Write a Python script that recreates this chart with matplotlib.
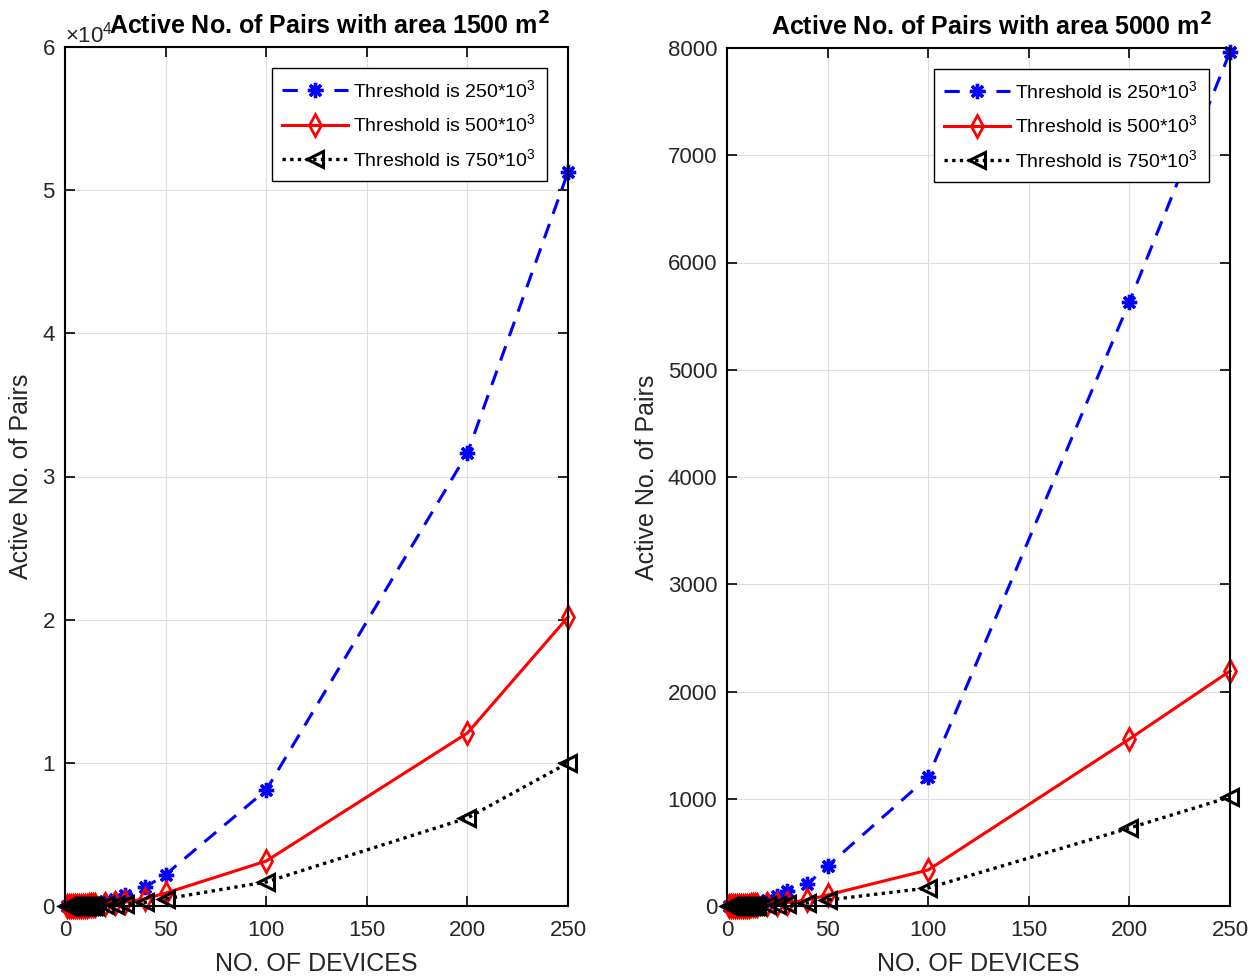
import matplotlib
matplotlib.use("Agg")
import matplotlib.pyplot as plt
from matplotlib.ticker import ScalarFormatter

plt.rcParams['font.family'] = ['Liberation Sans', 'DejaVu Sans']
plt.rcParams['mathtext.default'] = 'regular'

devices = [1, 2, 3, 4, 5, 6, 7, 8, 9, 10, 11, 12, 13, 14, 15, 20, 25, 30, 40, 50, 100, 200, 250]

# area 1500 m^2
a1500_t250 = [0, 2, 5, 10, 16, 25, 35, 46, 60, 75, 90, 110, 130, 150, 175, 320, 510, 740, 1310, 2200, 8100, 31630, 51260]
a1500_t500 = [0, 1, 2, 4, 6, 9, 13, 17, 22, 28, 34, 41, 48, 56, 65, 120, 190, 280, 500, 900, 3140, 12080, 20180]
a1500_t750 = [0, 0, 1, 2, 3, 5, 7, 9, 11, 14, 17, 20, 24, 28, 32, 64, 100, 140, 260, 500, 1680, 6150, 9990]

# area 5000 m^2
a5000_t250 = [0, 0, 1, 2, 3, 4, 6, 8, 10, 12, 15, 18, 21, 25, 29, 55, 90, 140, 205, 373, 1203, 5632, 7963]
a5000_t500 = [0, 0, 0, 1, 1, 1, 2, 2, 3, 3, 4, 5, 6, 7, 8, 14, 22, 32, 56, 103, 336, 1557, 2191]
a5000_t750 = [0, 0, 0, 0, 0, 1, 1, 1, 1, 2, 2, 2, 3, 3, 4, 6, 10, 15, 28, 56, 168, 727, 1016]

labels = [r'Threshold is 250*10$^{3}$', r'Threshold is 500*10$^{3}$', r'Threshold is 750*10$^{3}$']
titles = [r'Active No. of Pairs with area 1500 m$^{\mathbf{2}}$', r'Active No. of Pairs with area 5000 m$^{\mathbf{2}}$']
x_ticks = [0, 50, 100, 150, 200, 250]
left_yticks = [0, 10000, 20000, 30000, 40000, 50000, 60000]
right_yticks = [0, 1000, 2000, 3000, 4000, 5000, 6000, 7000, 8000]

fig = plt.figure(figsize=(12.57, 9.77), dpi=100)
ax1 = fig.add_axes([65/1257, 71/977, 503/1257, 859/977])
ax2 = fig.add_axes([727/1257, 71/977, 503/1257, 858/977])

tick_col = (0.15, 0.15, 0.15)

def draw(ax, s1, s2, s3, title, yticks, ymax):
    ax.plot(devices, s1, color='blue', linestyle=(0, (5, 3.5)), linewidth=2.2,
            marker=(8, 2, 0), markersize=11, markeredgewidth=2.4, label=labels[0])
    ax.plot(devices, s2, color='red', linestyle='-', linewidth=2.2,
            marker='d', markersize=11, markerfacecolor='none', markeredgewidth=2.0, label=labels[1])
    ax.plot(devices, s3, color='black', linestyle=(0, (1, 1.3)), linewidth=2.4,
            marker='<', markersize=12, markerfacecolor='none', markeredgewidth=2.2, label=labels[2])
    ax.set_xlim(0, 250)
    ax.set_ylim(0, ymax)
    ax.set_xticks(x_ticks)
    ax.set_yticks(yticks)
    ax.grid(True, color=(0.87, 0.87, 0.87), linewidth=0.8)
    ax.set_axisbelow(True)
    ax.tick_params(direction='in', top=True, right=True, length=7, width=1.2,
                   labelsize=16, colors='black', labelcolor=tick_col, pad=7)
    ax.tick_params(axis='x', pad=10)
    for sp in ax.spines.values():
        sp.set_linewidth(1.5)
    ax.set_xlabel('NO. OF DEVICES', fontsize=18, color=tick_col, labelpad=8)
    ax.set_ylabel('Active No. of Pairs', fontsize=18, color=tick_col, labelpad=6)
    ax.set_title(title, fontsize=18, fontweight='bold', pad=9, y=1.0, x=0.526)
    leg = ax.legend(loc='upper right', fontsize=14, frameon=True, fancybox=False,
                    edgecolor='black', framealpha=1, borderpad=0.55, labelspacing=0.65,
                    handlelength=3.4, handletextpad=0.25, borderaxespad=1.1)
    leg.get_frame().set_linewidth(1.0)

draw(ax1, a1500_t250, a1500_t500, a1500_t750, titles[0], left_yticks, 60000)
draw(ax2, a5000_t250, a5000_t500, a5000_t750, titles[1], right_yticks, 8000)

fmt = ScalarFormatter(useMathText=True)
fmt.set_powerlimits((0, 0))
ax1.yaxis.set_major_formatter(fmt)
ax1.yaxis.get_offset_text().set_fontsize(16)
ax1.yaxis.get_offset_text().set_color(tick_col)
for l in ax1.lines + ax2.lines:
    l.set_clip_on(False)

fig.savefig('out.png', dpi=100)
